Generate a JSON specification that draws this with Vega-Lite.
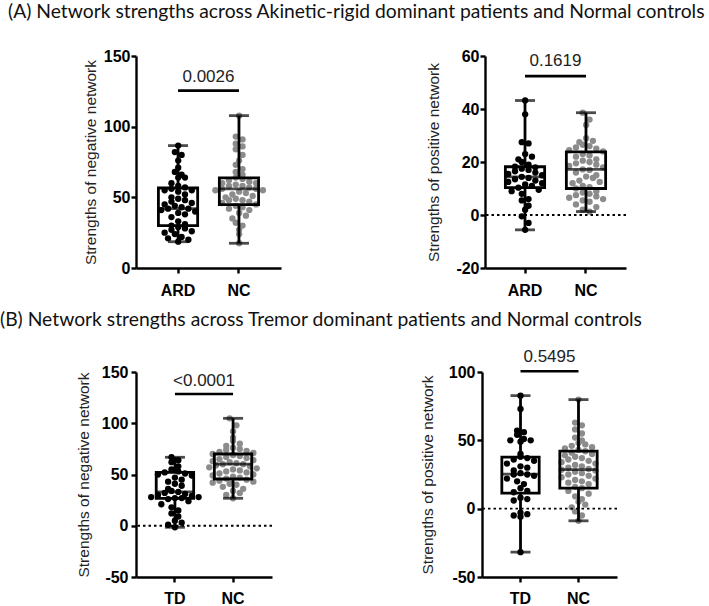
{
  "$schema": "https://vega.github.io/schema/vega-lite/v6.json",
  "background": "white",
  "padding": {"left": 0, "top": 2, "right": 4, "bottom": 0},
  "config": {
    "view": {"stroke": null},
    "font": "Liberation Sans",
    "circle": {"size": 40, "opacity": 1},
    "axis": {
      "domainColor": "black", "domainWidth": 2.4, "tickColor": "black", "tickWidth": 2.4, "tickSize": 5,
      "labelColor": "black", "labelFont": "Liberation Sans", "labelFontWeight": "bold", "labelFontSize": 16,
      "titleFont": "Liberation Sans", "titleFontWeight": "normal", "titleFontSize": 15.5, "titleColor": "#222222", "grid": false
    },
    "title": {"font": "Lato", "fontSize": 19.3, "fontWeight": "normal", "anchor": "start", "frame": "group", "color": "#111111"}
  },
  "datasets": {
    "points": [
      {"panel":"A1","group":"ARD","value":86.6},{"panel":"A1","group":"ARD","value":82},{"panel":"A1","group":"ARD","value":80},{"panel":"A1","group":"ARD","value":76},{"panel":"A1","group":"ARD","value":71},{"panel":"A1","group":"ARD","value":68},{"panel":"A1","group":"ARD","value":66},{"panel":"A1","group":"ARD","value":64},{"panel":"A1","group":"ARD","value":64},{"panel":"A1","group":"ARD","value":60},{"panel":"A1","group":"ARD","value":58},{"panel":"A1","group":"ARD","value":57},{"panel":"A1","group":"ARD","value":56},{"panel":"A1","group":"ARD","value":55},{"panel":"A1","group":"ARD","value":55},{"panel":"A1","group":"ARD","value":54},{"panel":"A1","group":"ARD","value":52},{"panel":"A1","group":"ARD","value":50},{"panel":"A1","group":"ARD","value":49},{"panel":"A1","group":"ARD","value":48},{"panel":"A1","group":"ARD","value":47},{"panel":"A1","group":"ARD","value":46},{"panel":"A1","group":"ARD","value":45},{"panel":"A1","group":"ARD","value":44},{"panel":"A1","group":"ARD","value":43},{"panel":"A1","group":"ARD","value":42},{"panel":"A1","group":"ARD","value":42},{"panel":"A1","group":"ARD","value":41},{"panel":"A1","group":"ARD","value":40},{"panel":"A1","group":"ARD","value":39},{"panel":"A1","group":"ARD","value":38},{"panel":"A1","group":"ARD","value":36},{"panel":"A1","group":"ARD","value":33},{"panel":"A1","group":"ARD","value":31},{"panel":"A1","group":"ARD","value":30},{"panel":"A1","group":"ARD","value":29},{"panel":"A1","group":"ARD","value":28},{"panel":"A1","group":"ARD","value":27},{"panel":"A1","group":"ARD","value":26},{"panel":"A1","group":"ARD","value":25},{"panel":"A1","group":"ARD","value":24},{"panel":"A1","group":"ARD","value":22},{"panel":"A1","group":"ARD","value":21},{"panel":"A1","group":"ARD","value":20},{"panel":"A1","group":"ARD","value":18.6},
      {"panel":"A1","group":"NC","value":107.8},{"panel":"A1","group":"NC","value":93},{"panel":"A1","group":"NC","value":91},{"panel":"A1","group":"NC","value":88},{"panel":"A1","group":"NC","value":86},{"panel":"A1","group":"NC","value":84},{"panel":"A1","group":"NC","value":80},{"panel":"A1","group":"NC","value":76},{"panel":"A1","group":"NC","value":73},{"panel":"A1","group":"NC","value":70},{"panel":"A1","group":"NC","value":68},{"panel":"A1","group":"NC","value":66},{"panel":"A1","group":"NC","value":64},{"panel":"A1","group":"NC","value":63},{"panel":"A1","group":"NC","value":62},{"panel":"A1","group":"NC","value":61},{"panel":"A1","group":"NC","value":60},{"panel":"A1","group":"NC","value":60},{"panel":"A1","group":"NC","value":59},{"panel":"A1","group":"NC","value":58},{"panel":"A1","group":"NC","value":58},{"panel":"A1","group":"NC","value":57},{"panel":"A1","group":"NC","value":56},{"panel":"A1","group":"NC","value":56},{"panel":"A1","group":"NC","value":55},{"panel":"A1","group":"NC","value":55},{"panel":"A1","group":"NC","value":54},{"panel":"A1","group":"NC","value":53},{"panel":"A1","group":"NC","value":52},{"panel":"A1","group":"NC","value":51},{"panel":"A1","group":"NC","value":50},{"panel":"A1","group":"NC","value":49},{"panel":"A1","group":"NC","value":48},{"panel":"A1","group":"NC","value":48},{"panel":"A1","group":"NC","value":47},{"panel":"A1","group":"NC","value":46},{"panel":"A1","group":"NC","value":45},{"panel":"A1","group":"NC","value":44},{"panel":"A1","group":"NC","value":43},{"panel":"A1","group":"NC","value":42},{"panel":"A1","group":"NC","value":41},{"panel":"A1","group":"NC","value":39},{"panel":"A1","group":"NC","value":37},{"panel":"A1","group":"NC","value":35},{"panel":"A1","group":"NC","value":32},{"panel":"A1","group":"NC","value":30},{"panel":"A1","group":"NC","value":27},{"panel":"A1","group":"NC","value":24},{"panel":"A1","group":"NC","value":17.5},
      {"panel":"A2","group":"ARD","value":43.2},{"panel":"A2","group":"ARD","value":38},{"panel":"A2","group":"ARD","value":27.5},{"panel":"A2","group":"ARD","value":27},{"panel":"A2","group":"ARD","value":23},{"panel":"A2","group":"ARD","value":22},{"panel":"A2","group":"ARD","value":21},{"panel":"A2","group":"ARD","value":20},{"panel":"A2","group":"ARD","value":19},{"panel":"A2","group":"ARD","value":18.2},{"panel":"A2","group":"ARD","value":18},{"panel":"A2","group":"ARD","value":17.5},{"panel":"A2","group":"ARD","value":17},{"panel":"A2","group":"ARD","value":16.5},{"panel":"A2","group":"ARD","value":16},{"panel":"A2","group":"ARD","value":15.5},{"panel":"A2","group":"ARD","value":15},{"panel":"A2","group":"ARD","value":14.4},{"panel":"A2","group":"ARD","value":14},{"panel":"A2","group":"ARD","value":13.5},{"panel":"A2","group":"ARD","value":13},{"panel":"A2","group":"ARD","value":12.5},{"panel":"A2","group":"ARD","value":12},{"panel":"A2","group":"ARD","value":11.5},{"panel":"A2","group":"ARD","value":11},{"panel":"A2","group":"ARD","value":10.3},{"panel":"A2","group":"ARD","value":9.5},{"panel":"A2","group":"ARD","value":9},{"panel":"A2","group":"ARD","value":8},{"panel":"A2","group":"ARD","value":6},{"panel":"A2","group":"ARD","value":5.5},{"panel":"A2","group":"ARD","value":3.5},{"panel":"A2","group":"ARD","value":2},{"panel":"A2","group":"ARD","value":-0.5},{"panel":"A2","group":"ARD","value":-3},{"panel":"A2","group":"ARD","value":-5.6},
      {"panel":"A2","group":"NC","value":38.6},{"panel":"A2","group":"NC","value":36},{"panel":"A2","group":"NC","value":34},{"panel":"A2","group":"NC","value":29},{"panel":"A2","group":"NC","value":28},{"panel":"A2","group":"NC","value":27.5},{"panel":"A2","group":"NC","value":26.5},{"panel":"A2","group":"NC","value":26},{"panel":"A2","group":"NC","value":25.5},{"panel":"A2","group":"NC","value":25},{"panel":"A2","group":"NC","value":24.5},{"panel":"A2","group":"NC","value":24},{"panel":"A2","group":"NC","value":23},{"panel":"A2","group":"NC","value":22.5},{"panel":"A2","group":"NC","value":22},{"panel":"A2","group":"NC","value":21},{"panel":"A2","group":"NC","value":20.5},{"panel":"A2","group":"NC","value":20},{"panel":"A2","group":"NC","value":19.5},{"panel":"A2","group":"NC","value":19},{"panel":"A2","group":"NC","value":18.5},{"panel":"A2","group":"NC","value":18},{"panel":"A2","group":"NC","value":17.2},{"panel":"A2","group":"NC","value":17},{"panel":"A2","group":"NC","value":16},{"panel":"A2","group":"NC","value":15},{"panel":"A2","group":"NC","value":14.5},{"panel":"A2","group":"NC","value":14},{"panel":"A2","group":"NC","value":13},{"panel":"A2","group":"NC","value":12.5},{"panel":"A2","group":"NC","value":12},{"panel":"A2","group":"NC","value":11},{"panel":"A2","group":"NC","value":10.5},{"panel":"A2","group":"NC","value":10},{"panel":"A2","group":"NC","value":9},{"panel":"A2","group":"NC","value":8.5},{"panel":"A2","group":"NC","value":8},{"panel":"A2","group":"NC","value":7.5},{"panel":"A2","group":"NC","value":7},{"panel":"A2","group":"NC","value":6.5},{"panel":"A2","group":"NC","value":6},{"panel":"A2","group":"NC","value":5.5},{"panel":"A2","group":"NC","value":5},{"panel":"A2","group":"NC","value":4},{"panel":"A2","group":"NC","value":3},{"panel":"A2","group":"NC","value":2},{"panel":"A2","group":"NC","value":1.3},
      {"panel":"B1","group":"TD","value":66.8},{"panel":"B1","group":"TD","value":64},{"panel":"B1","group":"TD","value":62},{"panel":"B1","group":"TD","value":58},{"panel":"B1","group":"TD","value":55},{"panel":"B1","group":"TD","value":53},{"panel":"B1","group":"TD","value":52},{"panel":"B1","group":"TD","value":51},{"panel":"B1","group":"TD","value":50},{"panel":"B1","group":"TD","value":49},{"panel":"B1","group":"TD","value":47},{"panel":"B1","group":"TD","value":45},{"panel":"B1","group":"TD","value":43},{"panel":"B1","group":"TD","value":41},{"panel":"B1","group":"TD","value":39},{"panel":"B1","group":"TD","value":36},{"panel":"B1","group":"TD","value":34},{"panel":"B1","group":"TD","value":33},{"panel":"B1","group":"TD","value":32},{"panel":"B1","group":"TD","value":31},{"panel":"B1","group":"TD","value":30},{"panel":"B1","group":"TD","value":29},{"panel":"B1","group":"TD","value":28},{"panel":"B1","group":"TD","value":28},{"panel":"B1","group":"TD","value":27},{"panel":"B1","group":"TD","value":27},{"panel":"B1","group":"TD","value":26},{"panel":"B1","group":"TD","value":24},{"panel":"B1","group":"TD","value":21},{"panel":"B1","group":"TD","value":18},{"panel":"B1","group":"TD","value":15},{"panel":"B1","group":"TD","value":12},{"panel":"B1","group":"TD","value":9},{"panel":"B1","group":"TD","value":5},{"panel":"B1","group":"TD","value":3},{"panel":"B1","group":"TD","value":1},{"panel":"B1","group":"TD","value":-1.5},
      {"panel":"B1","group":"NC","value":104.8},{"panel":"B1","group":"NC","value":98},{"panel":"B1","group":"NC","value":92},{"panel":"B1","group":"NC","value":86},{"panel":"B1","group":"NC","value":83},{"panel":"B1","group":"NC","value":80},{"panel":"B1","group":"NC","value":78},{"panel":"B1","group":"NC","value":76},{"panel":"B1","group":"NC","value":75},{"panel":"B1","group":"NC","value":74},{"panel":"B1","group":"NC","value":73},{"panel":"B1","group":"NC","value":72},{"panel":"B1","group":"NC","value":71},{"panel":"B1","group":"NC","value":70},{"panel":"B1","group":"NC","value":69},{"panel":"B1","group":"NC","value":68},{"panel":"B1","group":"NC","value":67},{"panel":"B1","group":"NC","value":66},{"panel":"B1","group":"NC","value":65},{"panel":"B1","group":"NC","value":64},{"panel":"B1","group":"NC","value":63},{"panel":"B1","group":"NC","value":62},{"panel":"B1","group":"NC","value":61},{"panel":"B1","group":"NC","value":60},{"panel":"B1","group":"NC","value":60},{"panel":"B1","group":"NC","value":59},{"panel":"B1","group":"NC","value":58},{"panel":"B1","group":"NC","value":57},{"panel":"B1","group":"NC","value":56},{"panel":"B1","group":"NC","value":55},{"panel":"B1","group":"NC","value":54},{"panel":"B1","group":"NC","value":53},{"panel":"B1","group":"NC","value":52},{"panel":"B1","group":"NC","value":51},{"panel":"B1","group":"NC","value":50},{"panel":"B1","group":"NC","value":49},{"panel":"B1","group":"NC","value":48},{"panel":"B1","group":"NC","value":47},{"panel":"B1","group":"NC","value":46},{"panel":"B1","group":"NC","value":45},{"panel":"B1","group":"NC","value":44},{"panel":"B1","group":"NC","value":43},{"panel":"B1","group":"NC","value":42},{"panel":"B1","group":"NC","value":41},{"panel":"B1","group":"NC","value":40},{"panel":"B1","group":"NC","value":38},{"panel":"B1","group":"NC","value":36},{"panel":"B1","group":"NC","value":34},{"panel":"B1","group":"NC","value":32},{"panel":"B1","group":"NC","value":30},{"panel":"B1","group":"NC","value":26.8},
      {"panel":"B2","group":"TD","value":82.7},{"panel":"B2","group":"TD","value":73},{"panel":"B2","group":"TD","value":57},{"panel":"B2","group":"TD","value":56},{"panel":"B2","group":"TD","value":54},{"panel":"B2","group":"TD","value":51},{"panel":"B2","group":"TD","value":50},{"panel":"B2","group":"TD","value":50},{"panel":"B2","group":"TD","value":49},{"panel":"B2","group":"TD","value":40},{"panel":"B2","group":"TD","value":38},{"panel":"B2","group":"TD","value":37},{"panel":"B2","group":"TD","value":36},{"panel":"B2","group":"TD","value":35},{"panel":"B2","group":"TD","value":33},{"panel":"B2","group":"TD","value":31},{"panel":"B2","group":"TD","value":30},{"panel":"B2","group":"TD","value":28},{"panel":"B2","group":"TD","value":26},{"panel":"B2","group":"TD","value":25},{"panel":"B2","group":"TD","value":25},{"panel":"B2","group":"TD","value":24},{"panel":"B2","group":"TD","value":22},{"panel":"B2","group":"TD","value":20},{"panel":"B2","group":"TD","value":18},{"panel":"B2","group":"TD","value":15},{"panel":"B2","group":"TD","value":13},{"panel":"B2","group":"TD","value":12},{"panel":"B2","group":"TD","value":8},{"panel":"B2","group":"TD","value":7},{"panel":"B2","group":"TD","value":6},{"panel":"B2","group":"TD","value":-3},{"panel":"B2","group":"TD","value":-4},{"panel":"B2","group":"TD","value":-5},{"panel":"B2","group":"TD","value":-6},{"panel":"B2","group":"TD","value":-31.8},
      {"panel":"B2","group":"NC","value":79.8},{"panel":"B2","group":"NC","value":63},{"panel":"B2","group":"NC","value":61},{"panel":"B2","group":"NC","value":58},{"panel":"B2","group":"NC","value":55},{"panel":"B2","group":"NC","value":52},{"panel":"B2","group":"NC","value":50},{"panel":"B2","group":"NC","value":48},{"panel":"B2","group":"NC","value":47},{"panel":"B2","group":"NC","value":46},{"panel":"B2","group":"NC","value":45},{"panel":"B2","group":"NC","value":44},{"panel":"B2","group":"NC","value":43},{"panel":"B2","group":"NC","value":42},{"panel":"B2","group":"NC","value":41},{"panel":"B2","group":"NC","value":40},{"panel":"B2","group":"NC","value":39},{"panel":"B2","group":"NC","value":38},{"panel":"B2","group":"NC","value":37},{"panel":"B2","group":"NC","value":36},{"panel":"B2","group":"NC","value":35},{"panel":"B2","group":"NC","value":34},{"panel":"B2","group":"NC","value":33},{"panel":"B2","group":"NC","value":32},{"panel":"B2","group":"NC","value":31},{"panel":"B2","group":"NC","value":30},{"panel":"B2","group":"NC","value":29},{"panel":"B2","group":"NC","value":28.5},{"panel":"B2","group":"NC","value":28},{"panel":"B2","group":"NC","value":27},{"panel":"B2","group":"NC","value":26},{"panel":"B2","group":"NC","value":25},{"panel":"B2","group":"NC","value":24},{"panel":"B2","group":"NC","value":23},{"panel":"B2","group":"NC","value":22},{"panel":"B2","group":"NC","value":21},{"panel":"B2","group":"NC","value":20},{"panel":"B2","group":"NC","value":19},{"panel":"B2","group":"NC","value":18},{"panel":"B2","group":"NC","value":16},{"panel":"B2","group":"NC","value":15},{"panel":"B2","group":"NC","value":13},{"panel":"B2","group":"NC","value":11},{"panel":"B2","group":"NC","value":9},{"panel":"B2","group":"NC","value":7},{"panel":"B2","group":"NC","value":5},{"panel":"B2","group":"NC","value":3},{"panel":"B2","group":"NC","value":1},{"panel":"B2","group":"NC","value":-2},{"panel":"B2","group":"NC","value":-5},{"panel":"B2","group":"NC","value":-8.9}
    ],
    "boxes": [
      {"panel":"A1","group":"ARD","min":18.6,"q1":30,"median":42,"q3":56.6,"max":86.6},
      {"panel":"A1","group":"NC","min":17.5,"q1":44.8,"median":56,"q3":63.7,"max":107.8},
      {"panel":"A2","group":"ARD","min":-5.6,"q1":10.3,"median":14.4,"q3":18.2,"max":43.2},
      {"panel":"A2","group":"NC","min":1.3,"q1":10,"median":17.2,"q3":23.8,"max":38.6},
      {"panel":"B1","group":"TD","min":-1.5,"q1":26.8,"median":33,"q3":52.1,"max":66.8},
      {"panel":"B1","group":"NC","min":26.8,"q1":45.6,"median":60.2,"q3":70,"max":104.8},
      {"panel":"B2","group":"TD","min":-31.8,"q1":11.3,"median":25.3,"q3":37.7,"max":82.7},
      {"panel":"B2","group":"NC","min":-8.9,"q1":15,"median":28.5,"q3":42.1,"max":79.8}
    ],
    "sig": [
      {"panel":"A1","from":"ARD","to":"NC","y":125.5,"label":"0.0026"},
      {"panel":"A2","from":"ARD","to":"NC","y":52.4,"label":"0.1619"},
      {"panel":"B1","from":"TD","to":"NC","y":128.5,"label":"<0.0001"},
      {"panel":"B2","from":"TD","to":"NC","y":100.5,"label":"0.5495"}
    ]
  },
  "spacing": 13,
  "vconcat": [
    {
      "title": {"text": "(A) Network strengths across Akinetic-rigid dominant patients and Normal controls", "dx": -128, "offset": 26},
      "bounds": "flush",
      "spacing": 204,
      "hconcat": [
        {
          "width": 145, "height": 212,
          "resolve": {"scale": {"xOffset": "independent"}},
          "layer": [
            {
              "data": {"name": "points"},
              "transform": [
                {"filter": "datum.panel === 'A1'"},
                {"bin": {"step": 5}, "field": "value", "as": ["b0", "b1"]},
                {"window": [{"op": "row_number", "as": "slot"}], "groupby": ["group", "b0"]},
                {"joinaggregate": [{"op": "count", "as": "n"}], "groupby": ["group", "b0"]}
              ],
              "encoding": {
                "x": {"field": "group", "type": "nominal", "scale": {"domain": ["ARD", "NC"], "paddingInner": 0.3, "paddingOuter": 0.34}, "axis": {"title": null, "labelAngle": 0, "labelPadding": 9}},
                "y": {"field": "value", "type": "quantitative", "scale": {"domain": [0, 150], "nice": false, "zero": false}, "axis": {"values": [0, 50, 100, 150], "title": "Strengths of negative network", "titlePadding": 5, "labelPadding": 1, "labelExpr": "'' + datum.value"}},
                "color": {"field": "group", "type": "nominal", "scale": {"domain": ["ARD", "NC"], "range": ["#000000", "#8c8c8c"]}, "legend": null}
              },
              "resolve": {"scale": {"xOffset": "independent"}},
              "layer": [
                {"transform": [{"filter": "datum.n % 2 === 1"}], "mark": "circle", "encoding": {"xOffset": {"field": "slot", "type": "ordinal", "scale": {"domain": [9, 7, 5, 3, 1, 2, 4, 6, 8], "range": [-9, 52]}}}},
                {"transform": [{"filter": "datum.n % 2 === 0"}], "mark": "circle", "encoding": {"xOffset": {"field": "slot", "type": "ordinal", "scale": {"domain": [9, 7, 5, 3, 1, 2, 4, 6, 8, 10], "range": [-12.4, 55.4]}}}}
              ]
            },
            {
              "data": {"name": "boxes"},
              "transform": [{"filter": "datum.panel === 'A1'"}],
              "encoding": {"x": {"field": "group", "type": "nominal"}},
              "layer": [
                {"mark": {"type": "rule", "color": "black", "strokeWidth": 2.8}, "encoding": {"y": {"field": "min", "type": "quantitative"}, "y2": {"field": "q1"}}},
                {"mark": {"type": "rule", "color": "black", "strokeWidth": 2.8}, "encoding": {"y": {"field": "q3", "type": "quantitative"}, "y2": {"field": "max"}}},
                {"mark": {"type": "bar", "fill": "transparent", "stroke": "black", "strokeWidth": 2.8, "width": {"band": 0.92}}, "encoding": {"y": {"field": "q1", "type": "quantitative"}, "y2": {"field": "q3"}}},
                {"mark": {"type": "tick", "color": "black", "thickness": 2.8, "size": 39}, "encoding": {"y": {"field": "median", "type": "quantitative"}}},
                {"transform": [{"fold": ["min", "max"], "as": ["k", "v"]}], "mark": {"type": "tick", "color": "black", "thickness": 2.8, "size": 20}, "encoding": {"y": {"field": "v", "type": "quantitative"}}}
              ]
            },
            {
              "data": {"name": "sig"},
              "transform": [{"filter": "datum.panel === 'A1'"}],
              "layer": [
                {"mark": {"type": "rule", "color": "black", "strokeWidth": 2.6}, "encoding": {"x": {"field": "from", "type": "nominal"}, "x2": {"field": "to"}, "y": {"field": "y", "type": "quantitative"}}},
                {"mark": {"type": "text", "fontSize": 17, "baseline": "alphabetic", "dy": -9, "color": "#222222", "font": "Liberation Sans"}, "encoding": {"x": {"field": "from", "type": "nominal", "bandPosition": 1.214}, "y": {"field": "y", "type": "quantitative"}, "text": {"field": "label"}}}
              ]
            }
          ]
        },
        {
          "width": 141, "height": 212,
          "resolve": {"scale": {"xOffset": "independent"}},
          "layer": [
            {
              "data": {"name": "points"},
              "transform": [
                {"filter": "datum.panel === 'A2'"},
                {"bin": {"step": 3}, "field": "value", "as": ["b0", "b1"]},
                {"window": [{"op": "row_number", "as": "slot"}], "groupby": ["group", "b0"]},
                {"joinaggregate": [{"op": "count", "as": "n"}], "groupby": ["group", "b0"]}
              ],
              "encoding": {
                "x": {"field": "group", "type": "nominal", "scale": {"domain": ["ARD", "NC"], "paddingInner": 0.3, "paddingOuter": 0.306}, "axis": {"title": null, "labelAngle": 0, "labelPadding": 9}},
                "y": {"field": "value", "type": "quantitative", "scale": {"domain": [-20, 60], "nice": false, "zero": false}, "axis": {"values": [-20, 0, 20, 40, 60], "title": "Strengths of  positive network", "titlePadding": 14, "labelPadding": 1, "labelExpr": "'' + datum.value"}},
                "color": {"field": "group", "type": "nominal", "scale": {"domain": ["ARD", "NC"], "range": ["#000000", "#8c8c8c"]}, "legend": null}
              },
              "resolve": {"scale": {"xOffset": "independent"}},
              "layer": [
                {"transform": [{"filter": "datum.n % 2 === 1"}], "mark": "circle", "encoding": {"xOffset": {"field": "slot", "type": "ordinal", "scale": {"domain": [9, 7, 5, 3, 1, 2, 4, 6, 8], "range": [-9, 52]}}}},
                {"transform": [{"filter": "datum.n % 2 === 0"}], "mark": "circle", "encoding": {"xOffset": {"field": "slot", "type": "ordinal", "scale": {"domain": [9, 7, 5, 3, 1, 2, 4, 6, 8, 10], "range": [-12.4, 55.4]}}}}
              ]
            },
            {
              "data": {"name": "sig"},
              "transform": [{"filter": "datum.panel === 'A2'"}],
              "mark": {"type": "rule", "color": "black", "strokeWidth": 1.8, "strokeDash": [2.5, 3]},
              "encoding": {"y": {"datum": 0}}
            },
            {
              "data": {"name": "boxes"},
              "transform": [{"filter": "datum.panel === 'A2'"}],
              "encoding": {"x": {"field": "group", "type": "nominal"}},
              "layer": [
                {"mark": {"type": "rule", "color": "black", "strokeWidth": 2.8}, "encoding": {"y": {"field": "min", "type": "quantitative"}, "y2": {"field": "q1"}}},
                {"mark": {"type": "rule", "color": "black", "strokeWidth": 2.8}, "encoding": {"y": {"field": "q3", "type": "quantitative"}, "y2": {"field": "max"}}},
                {"mark": {"type": "bar", "fill": "transparent", "stroke": "black", "strokeWidth": 2.8, "width": {"band": 0.92}}, "encoding": {"y": {"field": "q1", "type": "quantitative"}, "y2": {"field": "q3"}}},
                {"mark": {"type": "tick", "color": "black", "thickness": 2.8, "size": 39}, "encoding": {"y": {"field": "median", "type": "quantitative"}}},
                {"transform": [{"fold": ["min", "max"], "as": ["k", "v"]}], "mark": {"type": "tick", "color": "black", "thickness": 2.8, "size": 20}, "encoding": {"y": {"field": "v", "type": "quantitative"}}}
              ]
            },
            {
              "data": {"name": "sig"},
              "transform": [{"filter": "datum.panel === 'A2'"}],
              "layer": [
                {"mark": {"type": "rule", "color": "black", "strokeWidth": 2.6}, "encoding": {"x": {"field": "from", "type": "nominal"}, "x2": {"field": "to"}, "y": {"field": "y", "type": "quantitative"}}},
                {"mark": {"type": "text", "fontSize": 17, "baseline": "alphabetic", "dy": -10, "color": "#222222", "font": "Liberation Sans"}, "encoding": {"x": {"field": "from", "type": "nominal", "bandPosition": 1.214}, "y": {"field": "y", "type": "quantitative"}, "text": {"field": "label"}}}
              ]
            }
          ]
        }
      ]
    },
    {
      "title": {"text": "(B) Network strengths across Tremor dominant patients and Normal controls", "dx": -136, "offset": 18},
      "bounds": "flush",
      "spacing": 210,
      "hconcat": [
        {
          "width": 136, "height": 205,
          "resolve": {"scale": {"xOffset": "independent"}},
          "layer": [
            {
              "data": {"name": "points"},
              "transform": [
                {"filter": "datum.panel === 'B1'"},
                {"bin": {"step": 7}, "field": "value", "as": ["b0", "b1"]},
                {"window": [{"op": "row_number", "as": "slot"}], "groupby": ["group", "b0"]},
                {"joinaggregate": [{"op": "count", "as": "n"}], "groupby": ["group", "b0"]}
              ],
              "encoding": {
                "x": {"field": "group", "type": "nominal", "scale": {"domain": ["TD", "NC"], "paddingInner": 0.3, "paddingOuter": 0.32}, "axis": {"title": null, "labelAngle": 0, "labelPadding": 8}},
                "y": {"field": "value", "type": "quantitative", "scale": {"domain": [-50, 150], "nice": false, "zero": false}, "axis": {"values": [-50, 0, 50, 100, 150], "title": "Strengths of negative network", "titlePadding": 10, "labelPadding": 3, "labelExpr": "'' + datum.value"}},
                "color": {"field": "group", "type": "nominal", "scale": {"domain": ["TD", "NC"], "range": ["#000000", "#8c8c8c"]}, "legend": null}
              },
              "resolve": {"scale": {"xOffset": "independent"}},
              "layer": [
                {"transform": [{"filter": "datum.n % 2 === 1"}], "mark": "circle", "encoding": {"xOffset": {"field": "slot", "type": "ordinal", "scale": {"domain": [9, 7, 5, 3, 1, 2, 4, 6, 8], "range": [-10.2, 50.8]}}}},
                {"transform": [{"filter": "datum.n % 2 === 0"}], "mark": "circle", "encoding": {"xOffset": {"field": "slot", "type": "ordinal", "scale": {"domain": [9, 7, 5, 3, 1, 2, 4, 6, 8, 10], "range": [-13.6, 54.2]}}}}
              ]
            },
            {
              "data": {"name": "sig"},
              "transform": [{"filter": "datum.panel === 'B1'"}],
              "mark": {"type": "rule", "color": "black", "strokeWidth": 1.8, "strokeDash": [2.5, 3]},
              "encoding": {"y": {"datum": 0}}
            },
            {
              "data": {"name": "boxes"},
              "transform": [{"filter": "datum.panel === 'B1'"}],
              "encoding": {"x": {"field": "group", "type": "nominal"}},
              "layer": [
                {"mark": {"type": "rule", "color": "black", "strokeWidth": 2.8}, "encoding": {"y": {"field": "min", "type": "quantitative"}, "y2": {"field": "q1"}}},
                {"mark": {"type": "rule", "color": "black", "strokeWidth": 2.8}, "encoding": {"y": {"field": "q3", "type": "quantitative"}, "y2": {"field": "max"}}},
                {"mark": {"type": "bar", "fill": "transparent", "stroke": "black", "strokeWidth": 2.8, "width": {"band": 0.92}}, "encoding": {"y": {"field": "q1", "type": "quantitative"}, "y2": {"field": "q3"}}},
                {"mark": {"type": "tick", "color": "black", "thickness": 2.8, "size": 37}, "encoding": {"y": {"field": "median", "type": "quantitative"}}},
                {"transform": [{"fold": ["min", "max"], "as": ["k", "v"]}], "mark": {"type": "tick", "color": "black", "thickness": 2.8, "size": 20}, "encoding": {"y": {"field": "v", "type": "quantitative"}}}
              ]
            },
            {
              "data": {"name": "sig"},
              "transform": [{"filter": "datum.panel === 'B1'"}],
              "layer": [
                {"mark": {"type": "rule", "color": "black", "strokeWidth": 2.6}, "encoding": {"x": {"field": "from", "type": "nominal"}, "x2": {"field": "to"}, "y": {"field": "y", "type": "quantitative"}}},
                {"mark": {"type": "text", "fontSize": 17, "baseline": "alphabetic", "dy": -8, "color": "#222222", "font": "Liberation Sans"}, "encoding": {"x": {"field": "from", "type": "nominal", "bandPosition": 1.214}, "y": {"field": "y", "type": "quantitative"}, "text": {"field": "label"}}}
              ]
            }
          ]
        },
        {
          "width": 135, "height": 205,
          "resolve": {"scale": {"xOffset": "independent"}},
          "layer": [
            {
              "data": {"name": "points"},
              "transform": [
                {"filter": "datum.panel === 'B2'"},
                {"bin": {"step": 5.5}, "field": "value", "as": ["b0", "b1"]},
                {"window": [{"op": "row_number", "as": "slot"}], "groupby": ["group", "b0"]},
                {"joinaggregate": [{"op": "count", "as": "n"}], "groupby": ["group", "b0"]}
              ],
              "encoding": {
                "x": {"field": "group", "type": "nominal", "scale": {"domain": ["TD", "NC"], "paddingInner": 0.3, "paddingOuter": 0.314}, "axis": {"title": null, "labelAngle": 0, "labelPadding": 8}},
                "y": {"field": "value", "type": "quantitative", "scale": {"domain": [-50, 100], "nice": false, "zero": false}, "axis": {"values": [-50, 0, 50, 100], "title": "Strengths of  positive network", "titlePadding": 13, "labelPadding": 2, "labelExpr": "'' + datum.value"}},
                "color": {"field": "group", "type": "nominal", "scale": {"domain": ["TD", "NC"], "range": ["#000000", "#8c8c8c"]}, "legend": null}
              },
              "resolve": {"scale": {"xOffset": "independent"}},
              "layer": [
                {"transform": [{"filter": "datum.n % 2 === 1"}], "mark": "circle", "encoding": {"xOffset": {"field": "slot", "type": "ordinal", "scale": {"domain": [9, 7, 5, 3, 1, 2, 4, 6, 8], "range": [-10.2, 50.8]}}}},
                {"transform": [{"filter": "datum.n % 2 === 0"}], "mark": "circle", "encoding": {"xOffset": {"field": "slot", "type": "ordinal", "scale": {"domain": [9, 7, 5, 3, 1, 2, 4, 6, 8, 10], "range": [-13.6, 54.2]}}}}
              ]
            },
            {
              "data": {"name": "sig"},
              "transform": [{"filter": "datum.panel === 'B2'"}],
              "mark": {"type": "rule", "color": "black", "strokeWidth": 1.8, "strokeDash": [2.5, 3]},
              "encoding": {"y": {"datum": 0}}
            },
            {
              "data": {"name": "boxes"},
              "transform": [{"filter": "datum.panel === 'B2'"}],
              "encoding": {"x": {"field": "group", "type": "nominal"}},
              "layer": [
                {"mark": {"type": "rule", "color": "black", "strokeWidth": 2.8}, "encoding": {"y": {"field": "min", "type": "quantitative"}, "y2": {"field": "q1"}}},
                {"mark": {"type": "rule", "color": "black", "strokeWidth": 2.8}, "encoding": {"y": {"field": "q3", "type": "quantitative"}, "y2": {"field": "max"}}},
                {"mark": {"type": "bar", "fill": "transparent", "stroke": "black", "strokeWidth": 2.8, "width": {"band": 0.92}}, "encoding": {"y": {"field": "q1", "type": "quantitative"}, "y2": {"field": "q3"}}},
                {"mark": {"type": "tick", "color": "black", "thickness": 2.8, "size": 37}, "encoding": {"y": {"field": "median", "type": "quantitative"}}},
                {"transform": [{"fold": ["min", "max"], "as": ["k", "v"]}], "mark": {"type": "tick", "color": "black", "thickness": 2.8, "size": 20}, "encoding": {"y": {"field": "v", "type": "quantitative"}}}
              ]
            },
            {
              "data": {"name": "sig"},
              "transform": [{"filter": "datum.panel === 'B2'"}],
              "layer": [
                {"mark": {"type": "rule", "color": "black", "strokeWidth": 2.6}, "encoding": {"x": {"field": "from", "type": "nominal"}, "x2": {"field": "to"}, "y": {"field": "y", "type": "quantitative"}}},
                {"mark": {"type": "text", "fontSize": 17, "baseline": "alphabetic", "dy": -9, "color": "#222222", "font": "Liberation Sans"}, "encoding": {"x": {"field": "from", "type": "nominal", "bandPosition": 1.214}, "y": {"field": "y", "type": "quantitative"}, "text": {"field": "label"}}}
              ]
            }
          ]
        }
      ]
    }
  ]
}
